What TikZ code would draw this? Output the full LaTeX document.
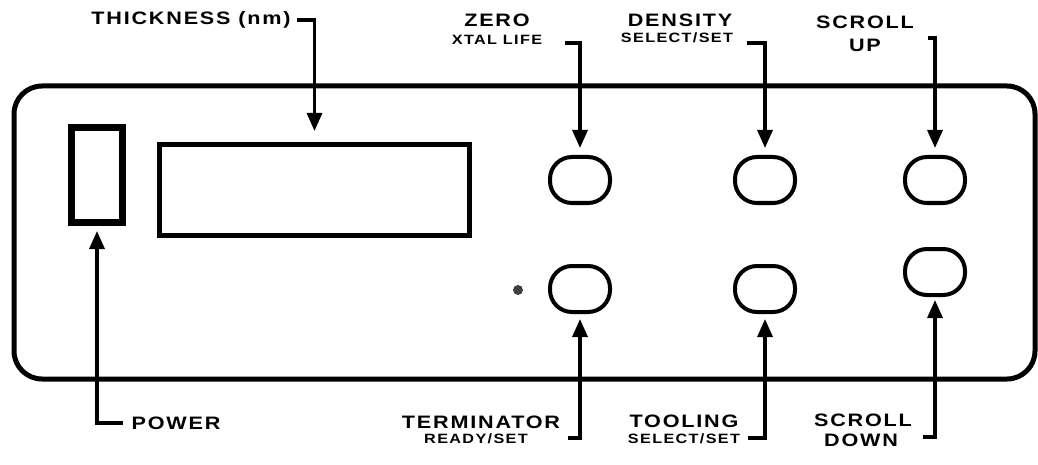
\documentclass[tikz,border=0pt]{standalone}
\usepackage{fontspec}
\setmainfont{Liberation Sans}[FakeStretch=1.2,LetterSpace=10]
\usetikzlibrary{arrows.meta}
\begin{document}
\begin{tikzpicture}[x=1pt,y=-1pt,
  big/.style={font=\fontsize{18}{18}\selectfont\bfseries,inner sep=0pt,anchor=center},
  small/.style={font=\fontsize{13.5}{13.5}\selectfont\bfseries,inner sep=0pt,anchor=center},
  btn/.style={draw,line width=4pt,rounded corners=22pt,minimum width=60pt,minimum height=46pt,inner sep=0pt},
  arr/.style={line width=3.2pt,-{Triangle[length=18pt,width=15pt]}},
]
\useasboundingbox (0,0) rectangle (1038,465);
% panel
\draw[line width=5pt,rounded corners=28pt] (14,86) rectangle (1035,379);
\node[draw,line width=7pt,minimum width=51pt,minimum height=95pt,inner sep=0pt] (power) at (97,175) {};
\node[draw,line width=5pt,minimum width=310pt,minimum height=91pt,inner sep=0pt] (disp) at (314.5,190) {};
% buttons
\node[btn] (zero) at (580,180) {};
\node[btn] (dens) at (765,180) {};
\node[btn] (sup) at (935,180) {};
\node[btn] (term) at (580,289) {};
\node[btn] (tool) at (765,289) {};
\node[btn] (sdown) at (935,272) {};
\node[circle,fill=black!75,inner sep=0pt,minimum size=10pt] (dot) at (518,290) {};
% labels
\node[big] (thick) at (191,20) {THICKNESS (nm)};
\node[big] (zerol) at (497,20) {ZERO};
\node[small] (xtal) at (497,40) {XTAL LIFE};
\node[big] (densl) at (680,20) {DENSITY};
\node[small] (densl2) at (677,38) {SELECT/SET};
\node[big] (supl) at (865,22) {SCROLL};
\node[big] (supl2) at (865,45) {UP};
\node[big] (powl) at (176,423) {POWER};
\node[big] (terml) at (481,422) {TERMINATOR};
\node[small] (terml2) at (476,439) {READY/SET};
\node[big] (tooll) at (684,421) {TOOLING};
\node[small] (tooll2) at (684,439) {SELECT/SET};
\node[big] (sdownl) at (863,420) {SCROLL};
\node[big] (sdownl2) at (861,440) {DOWN};
% stub ends
\coordinate (thickS) at (297,20);
\coordinate (zeroS) at (565,43);
\coordinate (densS) at (747,43);
\coordinate (supS) at (928,38);
\coordinate (powS) at (123,423);
\coordinate (termS) at (568,438);
\coordinate (toolS) at (748,438);
\coordinate (sdownS) at (923,437);
% connectors
\draw[arr,shorten >=11pt] (thickS) -| (disp.north);
\draw[arr,shorten >=7pt] (zeroS) -| (zero.north);
\draw[arr,shorten >=7pt] (densS) -| (dens.north);
\draw[arr,shorten >=7pt] (supS) -| (sup.north);
\draw[arr,shorten >=5pt] (powS) -| (power.south);
\draw[arr,shorten >=5pt] (termS) -| (term.south);
\draw[arr,shorten >=5pt] (toolS) -| (tool.south);
\draw[arr,shorten >=3pt] (sdownS) -| (sdown.south);
\end{tikzpicture}
\end{document}
